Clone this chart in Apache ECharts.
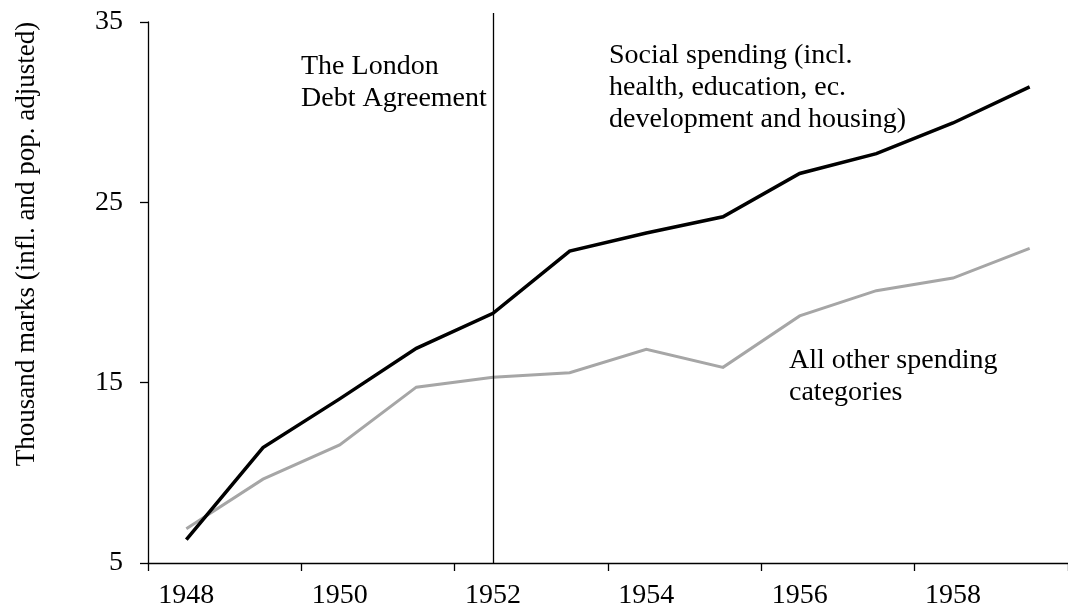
<!DOCTYPE html>
<html>
<head>
<meta charset="utf-8">
<script src="https://cdn.jsdelivr.net/npm/echarts@6/dist/echarts.min.js"></script>
<style>html,body{margin:0;padding:0;background:#fff;}#c{width:1068px;height:614px;}</style>
</head>
<body>
<div id="c"></div>
<script>
var years = ['1948','1949','1950','1951','1952','1953','1954','1955','1956','1957','1958','1959'];
var socialSpending = [6.3, 11.4, 14.1, 16.9, 18.85, 22.3, 23.3, 24.2, 26.6, 27.7, 29.4, 31.4];
var otherSpending = [6.9, 9.65, 11.55, 14.75, 15.3, 15.55, 16.85, 15.85, 18.7, 20.1, 20.8, 22.45];
var yTicks = [5, 15, 25, 35];
var agreementYear = '1952';
var yAxisTitle = 'Thousand marks (infl. and pop. adjusted)';
var noteAgreement = 'The London\nDebt Agreement';
var noteSocial = 'Social spending (incl.\nhealth, education, ec.\ndevelopment and housing)';
var noteOther = 'All other spending\ncategories';

var FONT = '"Liberation Serif", "Times New Roman", serif';
var chart = echarts.init(document.getElementById('c'));
chart.setOption({
  animation: false,
  backgroundColor: '#ffffff',
  grid: [
    { left: 148, right: -4, top: 22, bottom: 51, containLabel: false },
    { left: 148, right: -4, top: 13, bottom: 51, containLabel: false }
  ],
  xAxis: [
    {
      type: 'category',
      gridIndex: 0,
      data: years,
      boundaryGap: true,
      axisLine: { lineStyle: { color: '#000', width: 1.3 } },
      axisTick: { show: true, interval: 1, length: 8, lineStyle: { color: '#000', width: 1.3 } },
      axisLabel: { interval: 1, color: '#000', fontFamily: FONT, fontSize: 28, margin: 19 },
      splitLine: { show: false }
    },
    {
      type: 'category',
      gridIndex: 1,
      data: years,
      boundaryGap: true,
      show: false
    }
  ],
  yAxis: [
    {
      type: 'value',
      gridIndex: 0,
      min: yTicks[0],
      max: yTicks[yTicks.length - 1],
      interval: yTicks[1] - yTicks[0],
      axisLine: { show: true, lineStyle: { color: '#000', width: 1.3 } },
      axisTick: { show: true, length: 8, lineStyle: { color: '#000', width: 1.3 } },
      axisLabel: { color: '#000', fontFamily: FONT, fontSize: 28, margin: 25 },
      splitLine: { show: false }
    },
    {
      type: 'value',
      gridIndex: 1,
      min: 0,
      max: 1,
      show: false
    }
  ],
  graphic: [
    { type: 'text', x: 27, y: 244, rotation: Math.PI / 2,
      style: { text: yAxisTitle, font: '27px ' + FONT, fill: '#000', align: 'center', verticalAlign: 'middle' } },
    { type: 'text', x: 301, y: 51,
      style: { text: noteAgreement, font: '28px ' + FONT, fill: '#000', lineHeight: 32, align: 'left', verticalAlign: 'top' } },
    { type: 'text', x: 609, y: 40,
      style: { text: noteSocial, font: '28px ' + FONT, fill: '#000', lineHeight: 32, align: 'left', verticalAlign: 'top' } },
    { type: 'text', x: 789, y: 345,
      style: { text: noteOther, font: '28px ' + FONT, fill: '#000', lineHeight: 32, align: 'left', verticalAlign: 'top' } }
  ],
  series: [
    {
      name: 'Social spending',
      type: 'line',
      xAxisIndex: 0,
      yAxisIndex: 0,
      data: socialSpending,
      symbol: 'none',
      z: 3,
      lineStyle: { color: '#000', width: 3.5, join: 'miter' }
    },
    {
      name: 'All other spending categories',
      type: 'line',
      xAxisIndex: 0,
      yAxisIndex: 0,
      data: otherSpending,
      symbol: 'none',
      z: 2,
      lineStyle: { color: '#a6a6a6', width: 3, join: 'miter' }
    },
    {
      name: 'London Debt Agreement',
      type: 'line',
      xAxisIndex: 1,
      yAxisIndex: 1,
      data: [],
      symbol: 'none',
      markLine: {
        silent: true,
        symbol: 'none',
        label: { show: false },
        lineStyle: { color: '#000', width: 1.3, type: 'solid' },
        data: [ { xAxis: agreementYear } ]
      }
    }
  ]
});
</script>
</body>
</html>
